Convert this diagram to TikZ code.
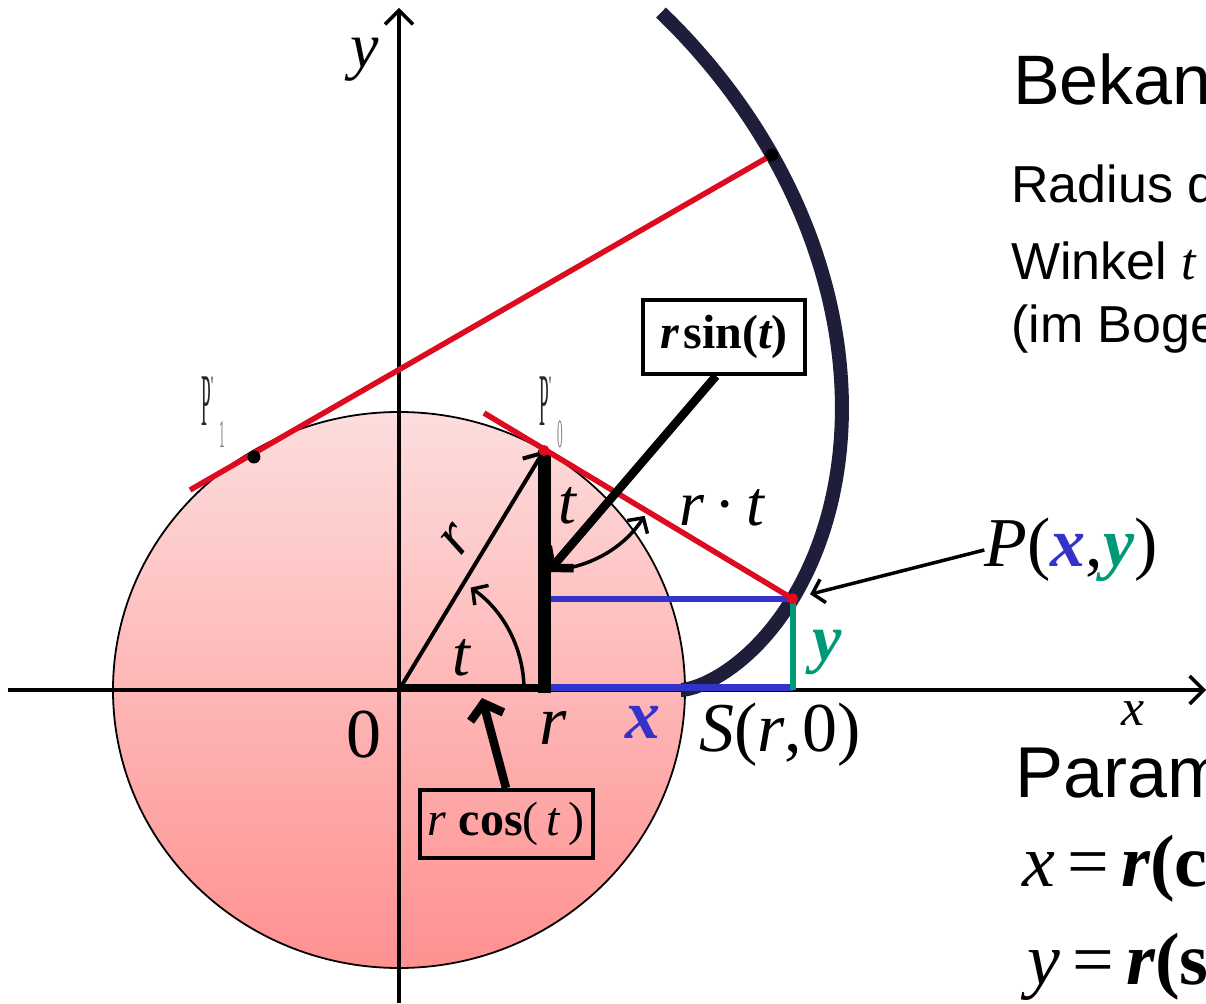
\documentclass[tikz,border=0pt]{standalone}
\usepackage{fontspec}
\usepackage{graphicx}
\setmainfont{Liberation Sans}
\newfontfamily\tnr{Liberation Serif}
\usetikzlibrary{arrows.meta,positioning,calc}
\definecolor{tangentred}{HTML}{DD0B1F}
\definecolor{rectblue}{HTML}{3333CC}
\definecolor{rectgreen}{HTML}{009977}
\definecolor{involcol}{HTML}{1E1E3A}
\definecolor{circtop}{HTML}{FDDDDD}
\definecolor{circbot}{HTML}{FF9090}
\newcommand\fsz[1]{\fontsize{#1}{#1}\selectfont}

\begin{document}
\begin{tikzpicture}[
    x=1pt, y=1pt,
    axis/.style={line width=3.5pt, -{Straight Barb[length=14pt,width=28pt]}},
    tangentline/.style={draw=tangentred, line width=5.5pt},
    bigarrow/.style={line width=8.5pt, -{Straight Barb[length=14pt,width=34pt]}},
    thinarrow/.style={line width=3.5pt, -{Straight Barb[length=11pt,width=24pt]}},
    labelbox/.style={draw, line width=4pt, inner sep=0pt, minimum height=#1},
    mlabel/.style={font=\tnr\itshape\fsz{#1}, inner sep=0pt},
    sidetext/.style={font=\fsz{#1}, anchor=base west, inner sep=0pt},
    ghost/.style={font=\tnr\fsz{62}, text=black!85, inner sep=0pt},
]
\clip (-399,-313) rectangle (807,690);

% ============================================================
% POINTS
% ============================================================
\coordinate (O) at (0,0);
\coordinate (F) at (145,0);
\coordinate (P0) at (145,239.5);
\coordinate (P) at (393.6,91.3);
\coordinate (P1) at (-145,233);
\coordinate (Q1) at (372.8,535);
\coordinate (T0) at (85,277);
\coordinate (T1) at (-209,200);
\coordinate (sintip) at (149,118);
\coordinate (costip) at (83,-8);

% ============================================================
% CIRCLE
% ============================================================
\shade[top color=circtop, bottom color=circbot] (O) ellipse [x radius=286pt, y radius=278pt];
\draw[line width=1.8pt] (O) ellipse [x radius=286pt, y radius=278pt];

% Axes
\draw[axis] (-391,0) -- (807,0);
\draw[axis] (0,-313) -- (0,682);

% Involute
\draw[involcol, line width=14pt]
    plot[domain=0:2.375, samples=90, smooth] ({282*(cos(\x r)+\x*sin(\x r))}, {282*(sin(\x r)-\x*cos(\x r))});

% x and y of P
\draw[rectblue, line width=6pt] (F |- P) -- (P);
\draw[rectblue, line width=7pt] ([yshift=2pt]F) -- ([yshift=2pt]P |- O);
\draw[rectgreen, line width=6pt] (P) -- (P |- O);
\draw[rectgreen, line width=2pt] ([xshift=-5pt]F |- P) -- ([xshift=-5pt]F);

% r cos(t) and r sin(t)
\draw[line width=8.5pt] ([yshift=2pt]O) -- ([yshift=2pt]F);
\draw[line width=13pt] ([yshift=-3pt]F) -- (P0);
\draw[line width=4pt, -{Straight Barb[length=15pt,width=28pt]}] (O) -- (P0);

% Angles
\draw[thinarrow] ([shift={(0:125)}]O) arc[start angle=0, end angle=55, radius=125pt];
\draw[thinarrow] ([shift={(-90:120)}]P0) arc[start angle=-90, end angle=-33, radius=120pt];

% Tangents
\draw[tangentline] (T0) -- (P);
\draw[tangentline] (T1) -- (Q1);
\fill (P1) circle (6.5pt);
\fill (Q1) circle (6.5pt);
\fill[tangentred] (P0) circle (5.5pt);
\fill[tangentred] (P) circle (5.5pt);

% ============================================================
% LABELS
% ============================================================
\node[mlabel=64] (ylbl) at (-34,630) {y};
\node[mlabel=52] (xlbl) at (734,-24) {x};
\node[mlabel=68, font=\tnr\fsz{70}] (zero) at (-35,-45) {0};
\node[mlabel=70] (rlbl) at (154,-38) {r};
\node[mlabel=70, font=\tnr\bfseries\itshape\fsz{70}, text=rectblue] (xval) at (244,-32) {x};
\node[mlabel=70] (slbl) at (381,-45) {S\textup{(}r\textup{,0)}};
\node[mlabel=66, font=\tnr\bfseries\itshape\fsz{66}, text=rectgreen] (yval) at (428,38) {y};
\node[mlabel=70] (Plbl) at (672,140) {P\textup{(}{\bfseries\color{rectblue}x}\textup{,}{\bfseries\color{rectgreen}y}\textup{)}};
\draw[thinarrow, shorten >=18pt] (Plbl.west) -- (P);

\node[mlabel=64] (tarc) at (62,32) {t};
\node[mlabel=64] (tarc2) at (168,184) {t};
\node[mlabel=64] (rtlbl) at (323,182) {r\,\textup{·}\,t};
\node[mlabel=60, rotate=52] (rrad) at (58,150) {r};

\node[ghost] (p1lbl) at (-186,278) {\scalebox{0.28}[1.2]{P}\raisebox{30pt}{\scalebox{0.5}[1]{\fsz{28}'}}\hspace{6pt}\raisebox{-22pt}{\color{gray}\scalebox{0.28}[1]{\fsz{40}1}}};
\node[ghost] (p0lbl) at (152,278) {\scalebox{0.28}[1.2]{P}\raisebox{30pt}{\scalebox{0.5}[1]{\fsz{28}'}}\hspace{6pt}\raisebox{-22pt}{\color{gray}\scalebox{0.28}[1]{\fsz{40}0}}};

% Boxes
\node[labelbox=74pt, minimum width=162pt, font=\tnr\bfseries\fsz{48}] (sinbox) at (325,353)
    {\itshape r\hspace{4pt}\upshape sin(\itshape t\upshape)};
\draw[bigarrow] ([xshift=-8pt]sinbox.south) -- (sintip);
\node[labelbox=68pt, minimum width=173pt, font=\tnr\fsz{48}] (cosbox) at (107,-134)
    {\itshape r\upshape\ \textbf{cos}(\,\itshape t\upshape\,)};
\draw[bigarrow] (cosbox.north) -- (costip);

% ============================================================
% TEXT ON THE RIGHT
% ============================================================
\node[sidetext=70] (bekannt) at (614,585) {Bekan};
\node[sidetext=52] (radius) at (612,487) {Radius d};
\node[sidetext=52] (winkel) at (612,410) {Winkel {\tnr\itshape t}};
\node[sidetext=52] (bogen) at (612,347) {(im Boge};
\node[sidetext=72] (param) at (616,-107) {Param};
\node[sidetext=72, font=\tnr\fsz{74}] (xeq) at (623,-196) {\itshape x\upshape\,=\,\bfseries\itshape r\upshape(c};
\node[sidetext=72, font=\tnr\fsz{74}] (yeq) at (628,-294) {\itshape y\upshape\,=\,\bfseries\itshape r\upshape(s};

\end{tikzpicture}
\end{document}
